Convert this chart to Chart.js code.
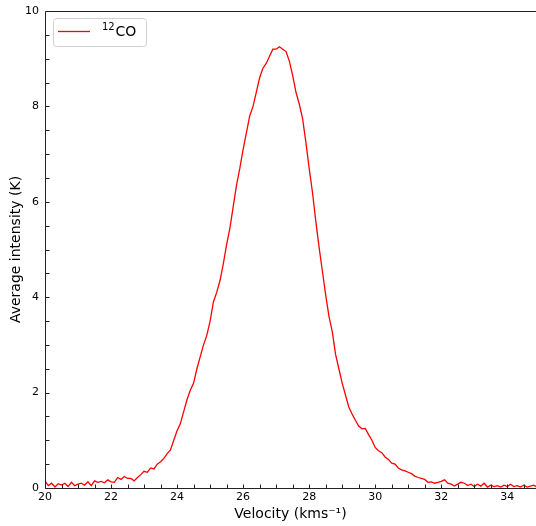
<!DOCTYPE html>
<html>
<head>
<meta charset="utf-8">
<script src="https://cdn.jsdelivr.net/npm/chart.js@4.4.0/dist/chart.umd.min.js"></script>
<style>
  body { margin: 0; background: #fff; }
  canvas { display: block; }
</style>
</head>
<body>
<canvas id="spectrum" width="536" height="526"></canvas>
<script>
// channel velocities (km/s) and average 12CO intensity (K)
const velocity = [
  20.0, 20.1, 20.2, 20.3, 20.4, 20.5, 20.6, 20.7, 20.8, 20.9,
  21.0, 21.1, 21.2, 21.3, 21.4, 21.5, 21.6, 21.7, 21.8, 21.9,
  22.0, 22.1, 22.2, 22.3, 22.4, 22.5, 22.6, 22.7, 22.8, 22.9,
  23.0, 23.1, 23.2, 23.3, 23.4, 23.5, 23.6, 23.7, 23.8, 23.9,
  24.0, 24.1, 24.2, 24.3, 24.4, 24.5, 24.6, 24.7, 24.8, 24.9,
  25.0, 25.1, 25.2, 25.3, 25.4, 25.5, 25.6, 25.7, 25.8, 25.9,
  26.0, 26.1, 26.2, 26.3, 26.4, 26.5, 26.6, 26.7, 26.8, 26.9,
  27.0, 27.1, 27.2, 27.3, 27.4, 27.5, 27.6, 27.7, 27.8, 27.9,
  28.0, 28.1, 28.2, 28.3, 28.4, 28.5, 28.6, 28.7, 28.8, 28.9,
  29.0, 29.1, 29.2, 29.3, 29.4, 29.5, 29.6, 29.7, 29.8, 29.9,
  30.0, 30.1, 30.2, 30.3, 30.4, 30.5, 30.6, 30.7, 30.8, 30.9,
  31.0, 31.1, 31.2, 31.3, 31.4, 31.5, 31.6, 31.7, 31.8, 31.9,
  32.0, 32.1, 32.2, 32.3, 32.4, 32.5, 32.6, 32.7, 32.8, 32.9,
  33.0, 33.1, 33.2, 33.3, 33.4, 33.5, 33.6, 33.7, 33.8, 33.9,
  34.0, 34.1, 34.2, 34.3, 34.4, 34.5, 34.6, 34.7, 34.8, 34.9
];
const intensity = [
  0.15, 0.05, 0.10, 0.02, 0.09, 0.06, 0.10, 0.03, 0.12, 0.05,
  0.08, 0.10, 0.06, 0.13, 0.05, 0.15, 0.12, 0.14, 0.11, 0.17,
  0.13, 0.12, 0.22, 0.18, 0.24, 0.20, 0.20, 0.15, 0.22, 0.28,
  0.35, 0.33, 0.42, 0.40, 0.50, 0.55, 0.62, 0.72, 0.80, 1.00,
  1.20, 1.35, 1.60, 1.85, 2.05, 2.20, 2.50, 2.75, 3.00, 3.20,
  3.50, 3.90, 4.10, 4.35, 4.70, 5.10, 5.45, 5.90, 6.35, 6.70,
  7.10, 7.45, 7.80, 8.00, 8.30, 8.60, 8.80, 8.90, 9.05, 9.20,
  9.20, 9.25, 9.20, 9.15, 8.95, 8.65, 8.30, 8.05, 7.75, 7.25,
  6.70, 6.20, 5.60, 5.05, 4.55, 4.05, 3.60, 3.28, 2.80, 2.50,
  2.20, 1.95, 1.70, 1.55, 1.42, 1.30, 1.24, 1.25, 1.12, 1.00,
  0.85, 0.78, 0.74, 0.65, 0.60, 0.52, 0.50, 0.42, 0.38, 0.36,
  0.33, 0.30, 0.25, 0.22, 0.20, 0.18, 0.12, 0.13, 0.10, 0.12,
  0.14, 0.17, 0.10, 0.08, 0.04, 0.08, 0.12, 0.10, 0.05, 0.08,
  0.03, 0.08, 0.04, 0.10, 0.02, 0.06, 0.03, 0.05, 0.02, 0.06,
  0.03, 0.08, 0.03, 0.05, 0.02, 0.06, 0.02, 0.04, 0.06, 0.02
];
const xTickValues = [20, 22, 24, 26, 28, 30, 32, 34];
const yTickValues = [0, 2, 4, 6, 8, 10];

Chart.defaults.font.family = 'DejaVu Sans';
Chart.defaults.color = '#000';

// matplotlib-ish frame: spines, inward major/minor ticks and a boxed legend
const frame = {
  id: 'frame',
  afterDatasetsDraw(chart) {
    const { ctx, chartArea: a, scales: { x, y } } = chart;
    const left = Math.round(a.left) + 0.5;
    const top = Math.round(a.top) + 0.5;
    const bottom = Math.round(a.bottom) + 0.5;
    ctx.save();
    ctx.strokeStyle = '#222';
    ctx.lineWidth = 1;
    ctx.beginPath();
    ctx.moveTo(left, bottom);
    ctx.lineTo(left, top);
    ctx.lineTo(a.right, top);
    ctx.moveTo(left, bottom);
    ctx.lineTo(a.right, bottom);
    for (let v = x.min; v <= x.max; v += 0.5) {
      const px = Math.round(x.getPixelForValue(v)) + 0.5;
      ctx.moveTo(px, bottom);
      ctx.lineTo(px, bottom - 4);
    }
    for (let v = y.min; v <= y.max; v += 0.5) {
      const py = Math.round(y.getPixelForValue(v)) + 0.5;
      ctx.moveTo(left, py);
      ctx.lineTo(left + 4, py);
    }
    ctx.stroke();

    // legend
    ctx.fillStyle = 'rgba(255,255,255,0.8)';
    ctx.strokeStyle = '#d0d0d0';
    ctx.beginPath();
    ctx.roundRect(53.5, 18.5, 93, 28, 3);
    ctx.fill();
    ctx.stroke();
    ctx.strokeStyle = '#ff0000';
    ctx.lineWidth = 1.3;
    ctx.beginPath();
    ctx.moveTo(58, 31.5);
    ctx.lineTo(90, 31.5);
    ctx.stroke();
    ctx.fillStyle = '#000';
    ctx.textBaseline = 'alphabetic';
    ctx.font = '10px "DejaVu Sans"';
    ctx.fillText('12', 102, 29.5);
    ctx.font = '14px "DejaVu Sans"';
    ctx.fillText('CO', 115.5, 36);
    ctx.restore();
  }
};

const ctx = document.getElementById('spectrum').getContext('2d');

new Chart(ctx, {
  type: 'line',
  data: {
    datasets: [{
      label: '12CO',
      data: velocity.map((v, i) => ({ x: v, y: intensity[i] })),
      borderColor: '#ff0000',
      borderWidth: 1.3,
      pointRadius: 0,
      fill: false,
      tension: 0
    }]
  },
  options: {
    responsive: false,
    animation: false,
    layout: { padding: { top: 11, right: 0, left: 0, bottom: 0 } },
    plugins: {
      legend: { display: false },
      tooltip: { enabled: false }
    },
    scales: {
      x: {
        type: 'linear',
        min: 20,
        max: 34.87,
        afterBuildTicks: (scale) => { scale.ticks = xTickValues.map(v => ({ value: v })); },
        afterFit: (scale) => { scale.height = 38; },
        grid: { display: false, drawTicks: false },
        border: { display: false },
        ticks: { padding: 3, maxRotation: 0, font: { size: 11 } },
        title: {
          display: true,
          text: 'Velocity (kms⁻¹)',
          font: { size: 14 },
          padding: { top: 0, bottom: 3 }
        }
      },
      y: {
        min: 0,
        max: 10,
        afterBuildTicks: (scale) => { scale.ticks = yTickValues.map(v => ({ value: v })); },
        afterFit: (scale) => { scale.width = 45; scale.paddingTop = 0; scale.paddingBottom = 0; },
        grid: { display: false, drawTicks: false },
        border: { display: false },
        ticks: { padding: 6, font: { size: 11 } },
        title: {
          display: true,
          text: 'Average intensity (K)',
          font: { size: 14 },
          padding: { top: 8, bottom: 0 }
        }
      }
    }
  },
  plugins: [frame]
});
</script>
</body>
</html>
